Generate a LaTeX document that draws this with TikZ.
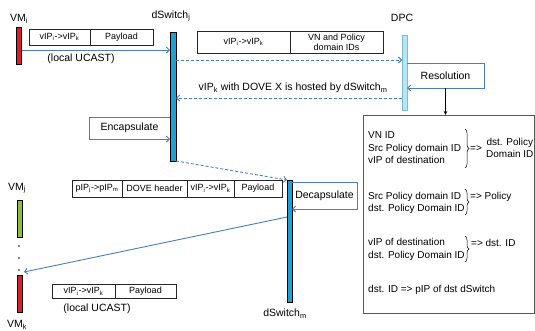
\documentclass[tikz,border=0pt]{standalone}
\usepackage{fontspec}
\setmainfont{Liberation Sans}
\usetikzlibrary{arrows.meta,decorations.pathreplacing,calc}
\definecolor{arrowblue}{RGB}{74,126,193}
\definecolor{swblue}{RGB}{30,160,215}
\definecolor{dpcfill}{RGB}{185,228,243}
\definecolor{dpcline}{RGB}{120,190,220}
\definecolor{vmred}{RGB}{220,30,40}
\definecolor{vmgreen}{RGB}{140,190,60}
\definecolor{boxgray}{RGB}{90,90,90}
\begin{document}
\begin{tikzpicture}[x=1pt,y=-1pt,
  font=\fontsize{10.5}{12.5}\selectfont,
  bar/.style={draw=black, line width=0.8pt, inner sep=0pt, outer sep=0pt},
  dpcbar/.style={draw=dpcline, fill=dpcfill, line width=0.6pt, inner sep=0pt, outer sep=0pt},
  cell/.style={draw=black!85, line width=0.6pt, inner sep=0pt, outer sep=0pt, font=\fontsize{9}{10}\selectfont},
  loopbox/.style={inner sep=0pt, outer sep=0pt},
  flow/.style={draw=arrowblue, line width=0.9pt, -{Straight Barb[length=3pt,width=6pt]}},
  dflow/.style={flow, dash pattern=on 3pt off 2pt},
  rtext/.style={font=\fontsize{10}{12.5}\selectfont, inner sep=0pt},
  brc/.style={decorate, decoration={brace, amplitude=4pt}, line width=0.5pt}
]
\useasboundingbox (0,0) rectangle (535,330);

% VM_i
\node[bar, fill=vmred, minimum width=5pt, minimum height=37pt] (vmi) at (19,45.5) {};
\node (vmilab) at (19,19) {VM\textsubscript{i}};
\node[cell, minimum width=61pt, minimum height=16pt, anchor=west] (p1a) at (29,37) {vIP\textsubscript{i}->vIP\textsubscript{k}};
\node[cell, minimum width=63pt, minimum height=16pt, anchor=west] (p1b) at (p1a.east) {Payload};
\node (ucast1) at (81,59) {(local UCAST)};

% dSwitch_j
\node[bar, fill=swblue, minimum width=6pt, minimum height=129pt] (dsj) at (173,96.5) {};
\node (dsjlab) at (171,16) {dSwitch\textsubscript{j}};
\draw[flow] (vmi.east |- 0,50) -- (dsj.west |- 0,50);

% packet to DPC
\node[cell, minimum width=93pt, minimum height=22pt, anchor=west] (p2a) at (197,42) {vIP\textsubscript{i}->vIP\textsubscript{k}};
\node[cell, minimum width=93pt, minimum height=22pt, anchor=west, align=center] (p2b) at (p2a.east) {VN and Policy\\domain IDs};

% DPC
\node[dpcbar, minimum width=5pt, minimum height=75pt] (dpc) at (404.5,72.5) {};
\node (dpclab) at (402,18) {DPC};
\draw[dflow] (dsj.east |- 0,60) -- (dpc.west |- 0,60);

% Resolution loop
\node[loopbox, minimum width=77pt, minimum height=25pt] (res) at (445.5,75.5) {Resolution};
\draw[flow] (dpc.east |- res.north) -- (res.north east) -- (res.south east) -- (dpc.east |- res.south);

% reply
\node (hosted) at (293,88) {vIP\textsubscript{k} with DOVE X is hosted by dSwitch\textsubscript{m}};
\draw[dflow] (dpc.west |- 0,98) -- (dsj.east |- 0,98);

% result box
\node[draw=boxgray, line width=0.7pt, minimum width=171pt, minimum height=198pt, anchor=north west, inner sep=0pt] (rbox) at (363,115) {};
\draw[line width=0.6pt, -{Stealth[length=4pt,width=3.5pt]}] (res.south) -- (res.south |- rbox.north);

\node[rtext, anchor=west, align=left] (g1) at (368,148) {VN ID\\Src Policy domain ID\\vIP of destination};
\draw[brc] (465,129) -- (465,168);
\node[rtext, anchor=west] (g1r) at (470,149) {=>};
\node[rtext, anchor=west, align=center] (g1o) at (486,148) {dst. Policy\\Domain ID};

\node[rtext, anchor=west, align=left] (g2) at (368,203) {Src Policy domain ID\\dst. Policy Domain ID};
\draw[brc] (465,189) -- (465,215);
\node[rtext, anchor=west] (g2r) at (470,197) {=> Policy};

\node[rtext, anchor=west, align=left] (g3) at (368,249.5) {vIP of destination\\dst. Policy Domain ID};
\draw[brc] (465,236) -- (465,262);
\node[rtext, anchor=west] (g3r) at (471,243) {=> dst. ID};

\node[rtext, anchor=west] (g4) at (368,290) {dst. ID => pIP of dst dSwitch};

% Encapsulate loop
\node[loopbox, minimum width=81pt, minimum height=22pt] (enc) at (129.5,128) {Encapsulate};
\draw[flow] (dsj.west |- enc.north) -- (enc.north west) -- (enc.south west) -- (dsj.west |- enc.south);

% dSwitch_m
\node[bar, fill=swblue, minimum width=5pt, minimum height=122pt] (dsm) at (289.5,241) {};
\node (dsmlab) at (285,314) {dSwitch\textsubscript{m}};
\draw[dflow] (dsj.south east) -- (dsm.north west);

% encapsulated packet
\node[cell, minimum width=50pt, minimum height=17pt, anchor=west] (p3a) at (72,188.5) {pIP\textsubscript{j}->pIP\textsubscript{m}};
\node[cell, minimum width=65pt, minimum height=17pt, anchor=west] (p3b) at (p3a.east) {DOVE header};
\node[cell, minimum width=47pt, minimum height=17pt, anchor=west] (p3c) at (p3b.east) {vIP\textsubscript{i}->vIP\textsubscript{k}};
\node[cell, minimum width=48pt, minimum height=17pt, anchor=west] (p3d) at (p3c.east) {Payload};

% Decapsulate loop
\node[loopbox, minimum width=65pt, minimum height=27pt] (dec) at (324.5,195.5) {Decapsulate};
\draw[flow] (dsm.east |- dec.north) -- (dec.north east) -- (dec.south east) -- (dsm.east |- dec.south);

% VM_j, VM_k
\node[bar, fill=vmgreen, minimum width=5pt, minimum height=37pt] (vmj) at (19.5,218.5) {};
\node (vmjlab) at (17,188) {VM\textsubscript{j}};
\fill (19,246) circle (0.8);
\fill (19,258) circle (0.8);
\fill (19,270) circle (0.8);
\node[bar, fill=vmred, minimum width=5pt, minimum height=37pt] (vmk) at (19.5,293.5) {};
\node (vmklab) at (17,325) {VM\textsubscript{k}};
\draw[flow] (dsm.west |- 0,217) -- ($(vmk.north east)+(2,-3)$);

\node[cell, minimum width=63pt, minimum height=14pt, anchor=west] (p4a) at (52,291.5) {vIP\textsubscript{i}->vIP\textsubscript{k}};
\node[cell, minimum width=61pt, minimum height=14pt, anchor=west] (p4b) at (p4a.east) {Payload};
\node (ucast2) at (97,309) {(local UCAST)};
\end{tikzpicture}
\end{document}
